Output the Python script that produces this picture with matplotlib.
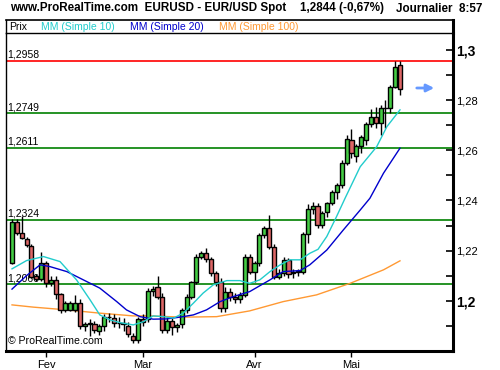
import matplotlib
matplotlib.use("Agg")
import matplotlib.pyplot as plt
from matplotlib.lines import Line2D

plt.rcParams['font.family'] = ['Liberation Sans', 'DejaVu Sans']

# daily EUR/USD candles, 23 Jan -> 15 May (bar index = trading day)
opens = [1.2152, 1.2313, 1.2269, 1.2246, 1.2220, 1.2099, 1.2087, 1.2149, 1.2072, 1.2083,
         1.2025, 1.1963, 1.1963, 1.1963, 1.1989, 1.1899, 1.1907, 1.1907, 1.1879, 1.1900,
         1.1936, 1.1932, 1.1912, 1.1910, 1.1899, 1.1859, 1.1843, 1.1926, 1.1927, 1.2040,
         1.2053, 1.2016, 1.1883, 1.1920, 1.1894, 1.1905, 1.1963, 1.2016, 1.2073, 1.2176,
         1.2192, 1.2165, 1.2109, 1.2076, 1.1970, 1.2036, 1.2013, 1.2006, 1.2023, 1.2173,
         1.2116, 1.2152, 1.2262, 1.2289, 1.2216, 1.2096, 1.2109, 1.2162, 1.2110, 1.2114,
         1.2116, 1.2265, 1.2366, 1.2379, 1.2304, 1.2355, 1.2389, 1.2433, 1.2462, 1.2549,
         1.2642, 1.2578, 1.2618, 1.2642, 1.2704, 1.2735, 1.2708, 1.2768, 1.2768, 1.2855,
         1.2941]
highs = [1.2325, 1.2326, 1.2338, 1.2256, 1.2226, 1.2108, 1.2193, 1.2160, 1.2100, 1.2098,
         1.2032, 1.2000, 1.2000, 1.2022, 1.2008, 1.1915, 1.1925, 1.1918, 1.1905, 1.1945,
         1.1950, 1.1945, 1.1935, 1.1930, 1.1915, 1.1870, 1.1935, 1.1945, 1.2050, 1.2060,
         1.2099, 1.2030, 1.1935, 1.1930, 1.1910, 1.1970, 1.2025, 1.2080, 1.2185, 1.2200,
         1.2210, 1.2175, 1.2120, 1.2090, 1.2055, 1.2050, 1.2030, 1.2035, 1.2185, 1.2185,
         1.2160, 1.2270, 1.2300, 1.2342, 1.2225, 1.2125, 1.2175, 1.2170, 1.2125, 1.2125,
         1.2275, 1.2385, 1.2395, 1.2390, 1.2360, 1.2395, 1.2440, 1.2470, 1.2560, 1.2662,
         1.2685, 1.2625, 1.2660, 1.2715, 1.2765, 1.2775, 1.2780, 1.2800, 1.2860, 1.2958,
         1.2958]
lows = [1.2148, 1.2262, 1.2245, 1.2215, 1.2090, 1.2078, 1.2080, 1.2055, 1.2058, 1.2005,
        1.1950, 1.1955, 1.1960, 1.1955, 1.1885, 1.1878, 1.1860, 1.1872, 1.1862, 1.1880,
        1.1915, 1.1895, 1.1890, 1.1880, 1.1855, 1.1832, 1.1832, 1.1900, 1.1915, 1.2020,
        1.2005, 1.1870, 1.1870, 1.1862, 1.1875, 1.1890, 1.1950, 1.2005, 1.2065, 1.2165,
        1.2155, 1.2100, 1.2060, 1.1955, 1.1955, 1.2000, 1.1990, 1.1990, 1.2015, 1.2105,
        1.2075, 1.2140, 1.2250, 1.2205, 1.2085, 1.2085, 1.2100, 1.2090, 1.2090, 1.2100,
        1.2105, 1.2230, 1.2345, 1.2290, 1.2290, 1.2335, 1.2380, 1.2405, 1.2450, 1.2540,
        1.2570, 1.2555, 1.2590, 1.2620, 1.2695, 1.2690, 1.2660, 1.2690, 1.2750, 1.2848,
        1.2822]
closes = [1.2316, 1.2269, 1.2252, 1.2222, 1.2096, 1.2087, 1.2149, 1.2069, 1.2083, 1.2025,
          1.1963, 1.1989, 1.1989, 1.1989, 1.1899, 1.1907, 1.1912, 1.1883, 1.1900, 1.1936,
          1.1934, 1.1912, 1.1910, 1.1905, 1.1867, 1.1843, 1.1926, 1.1913, 1.2039, 1.2048,
          1.2016, 1.1883, 1.1920, 1.1894, 1.1903, 1.1963, 1.2016, 1.2073, 1.2176, 1.2192,
          1.2165, 1.2109, 1.2076, 1.1970, 1.2036, 1.2013, 1.2006, 1.2023, 1.2173, 1.2116,
          1.2152, 1.2262, 1.2289, 1.2216, 1.2096, 1.2112, 1.2162, 1.2106, 1.2114, 1.2116,
          1.2265, 1.2366, 1.2379, 1.2304, 1.2352, 1.2389, 1.2433, 1.2462, 1.2549, 1.2645,
          1.2589, 1.2618, 1.2655, 1.2704, 1.2732, 1.2708, 1.2768, 1.2770, 1.2855, 1.2932,
          1.2844]

# moving averages (bar index, value)
ma10_x = [0, 3, 6.5, 9.9, 13.3, 16.1, 18.1, 20.2, 22.3, 25, 27.1, 29.1, 31.2, 33.3, 35.3,
          37.4, 39.4, 41.5, 44.3, 47, 49, 51.1, 53.2, 55.3, 57.3, 59.4, 61.4, 63.1, 64.9,
          66.9, 68.7, 71.8, 75.2, 77.3, 80]
ma10_y = [1.2127, 1.2160, 1.2176, 1.2156, 1.2083, 1.2003, 1.1943, 1.1923, 1.1912, 1.1903,
          1.1916, 1.1939, 1.1936, 1.1930, 1.1950, 1.1990, 1.2030, 1.2063, 1.2080, 1.2080,
          1.2069, 1.2083, 1.2116, 1.2143, 1.2163, 1.2163, 1.2189, 1.2205, 1.2256, 1.2335,
          1.2410, 1.2535, 1.2615, 1.2695, 1.2762]
ma20_x = [0, 3, 5.8, 7.8, 11.3, 14.7, 18.1, 21.6, 23.6, 26.4, 29.1, 31.9, 34.6, 37.4,
          40.1, 42.9, 45.6, 49, 53.2, 55.9, 59.4, 61.4, 64.9, 68.3, 71.8, 73.8, 76.6, 80]
ma20_y = [1.2046, 1.2100, 1.2143, 1.2136, 1.2116, 1.2083, 1.2050, 1.1996, 1.1963, 1.1936,
          1.1926, 1.1927, 1.1934, 1.1943, 1.1963, 1.1996, 1.2016, 1.2036, 1.2083, 1.2116,
          1.2120, 1.2143, 1.2202, 1.2282, 1.2362, 1.2409, 1.2509, 1.2609]
ma100_x = [0, 4.4, 11.3, 18.1, 25, 28.4, 35.3, 42.2, 49, 55.9, 62.8, 69.7, 76.6, 80]
ma100_y = [1.1983, 1.1974, 1.1963, 1.1950, 1.1939, 1.1939, 1.1934, 1.1936, 1.1959,
           1.1996, 1.2023, 1.2069, 1.2123, 1.2159]

levels = [1.2958, 1.2749, 1.2611, 1.2324, 1.2066]
level_labels = ['1,2958', '1,2749', '1,2611', '1,2324', '1,2066']
level_colors = ['#FF0000', '#008000', '#008000', '#008000', '#008000']

month_pos = [7, 27, 50, 70]
month_labels = ['Fev', 'Mar', 'Avr', 'Mai']

yticks = [1.20, 1.22, 1.24, 1.26, 1.28, 1.30]
ytick_labels = ['1,2', '1,22', '1,24', '1,26', '1,28', '1,3']

W, H = 500, 370
fig = plt.figure(figsize=(5, 3.7), dpi=100)
ax = fig.add_axes([6 / W, 1 - 350.7 / H, (453 - 6) / W, (350.7 - 33) / H])

up_col, down_col = '#44CC44', '#DD6666'
for i in range(len(opens)):
    o, h, l, c = opens[i], highs[i], lows[i], closes[i]
    ax.vlines(i, l, h, color='black', lw=1, zorder=3)
    bottom = min(o, c)
    height = max(abs(c - o), 0.00025)
    ax.bar(i, height, bottom=bottom, width=0.85, color=up_col if c >= o else down_col,
           edgecolor='black', linewidth=1, zorder=4)

ax.plot(ma100_x, ma100_y, color='#FF9933', lw=1, zorder=2)
ax.plot(ma20_x, ma20_y, color='#0000CC', lw=1, zorder=5)
ax.plot(ma10_x, ma10_y, color='#22CCCC', lw=1, zorder=5)

for val, lab, col in zip(levels, level_labels, level_colors):
    ax.axhline(val, color=col, lw=1.2, zorder=1)
    ax.text(-1.0, val + 0.0004, lab, fontsize=7.5, color='black', va='bottom', ha='left', zorder=1)

ax.set_xlim(-1.24, 90.93)
ax.set_ylim(1.1800, 1.3069)

ax.yaxis.tick_right()
ax.set_yticks(yticks)
ax.set_yticklabels(ytick_labels)
ax.set_yticks([1.19, 1.21, 1.23, 1.25, 1.27, 1.29], minor=True)
ax.tick_params(axis='y', which='both', direction='in', length=5, width=1.2, pad=2,
               labelsize=8, right=True, left=False)
for t in ax.get_yticklabels():
    if t.get_text() in ('1,2', '1,3'):
        t.set_fontweight('bold')
        t.set_fontsize(10)

ax.set_xticks(month_pos)
ax.set_xticklabels(month_labels)
ax.tick_params(axis='x', direction='out', length=4, width=1, labelsize=8, pad=3)

ax.spines['left'].set_linewidth(1)
ax.spines['top'].set_linewidth(1)
ax.spines['right'].set_linewidth(2.2)
ax.spines['bottom'].set_linewidth(2.2)

ax.text(-0.9, 1.1818, '\u00a9 ProRealTime.com', fontsize=7.6, color='black', va='bottom', ha='left', zorder=6)

# arrow on the right
ax.annotate('', xy=(437 / W, 1 - 88 / H), xytext=(414 / W, 1 - 88 / H),
            xycoords='figure fraction', textcoords='figure fraction',
            arrowprops=dict(arrowstyle='-|>', color='#6699FF', lw=2, mutation_scale=11))

# legend strip above the price panel
fig.add_artist(Line2D([6 / W, 453 / W], [1 - 20 / H, 1 - 20 / H], color='black', lw=1.2))
fig.add_artist(Line2D([6 / W, 6 / W], [1 - 20 / H, 1 - 33 / H], color='black', lw=1))
fig.add_artist(Line2D([453 / W, 453 / W], [1 - 20 / H, 1 - 33 / H], color='black', lw=2.2))
legend_items = [('Prix', 9, 'black'), ('MM (Simple 10)', 41, '#22CCCC'),
                ('MM (Simple 20)', 130, '#0000CC'), ('MM (Simple 100)', 219, '#FF9933')]
for txt, x, col in legend_items:
    fig.text(x / W, 1 - 27 / H, txt, fontsize=7.5, color=col, va='center', ha='left')

# title line
fig.text(10 / W, 1 - 8.5 / H, 'www.ProRealTime.com  EURUSD - EUR/USD Spot', fontsize=8.4,
         fontweight='bold', va='center', ha='left')
fig.text(300 / W, 1 - 8.5 / H, '1,2844 (-0,67%)', fontsize=8.4, fontweight='bold', va='center', ha='left')
fig.text(396 / W, 1 - 8.5 / H, 'Journalier  8:57', fontsize=8.4, fontweight='bold', va='center', ha='left')

fig.savefig('out.png', dpi=100)
